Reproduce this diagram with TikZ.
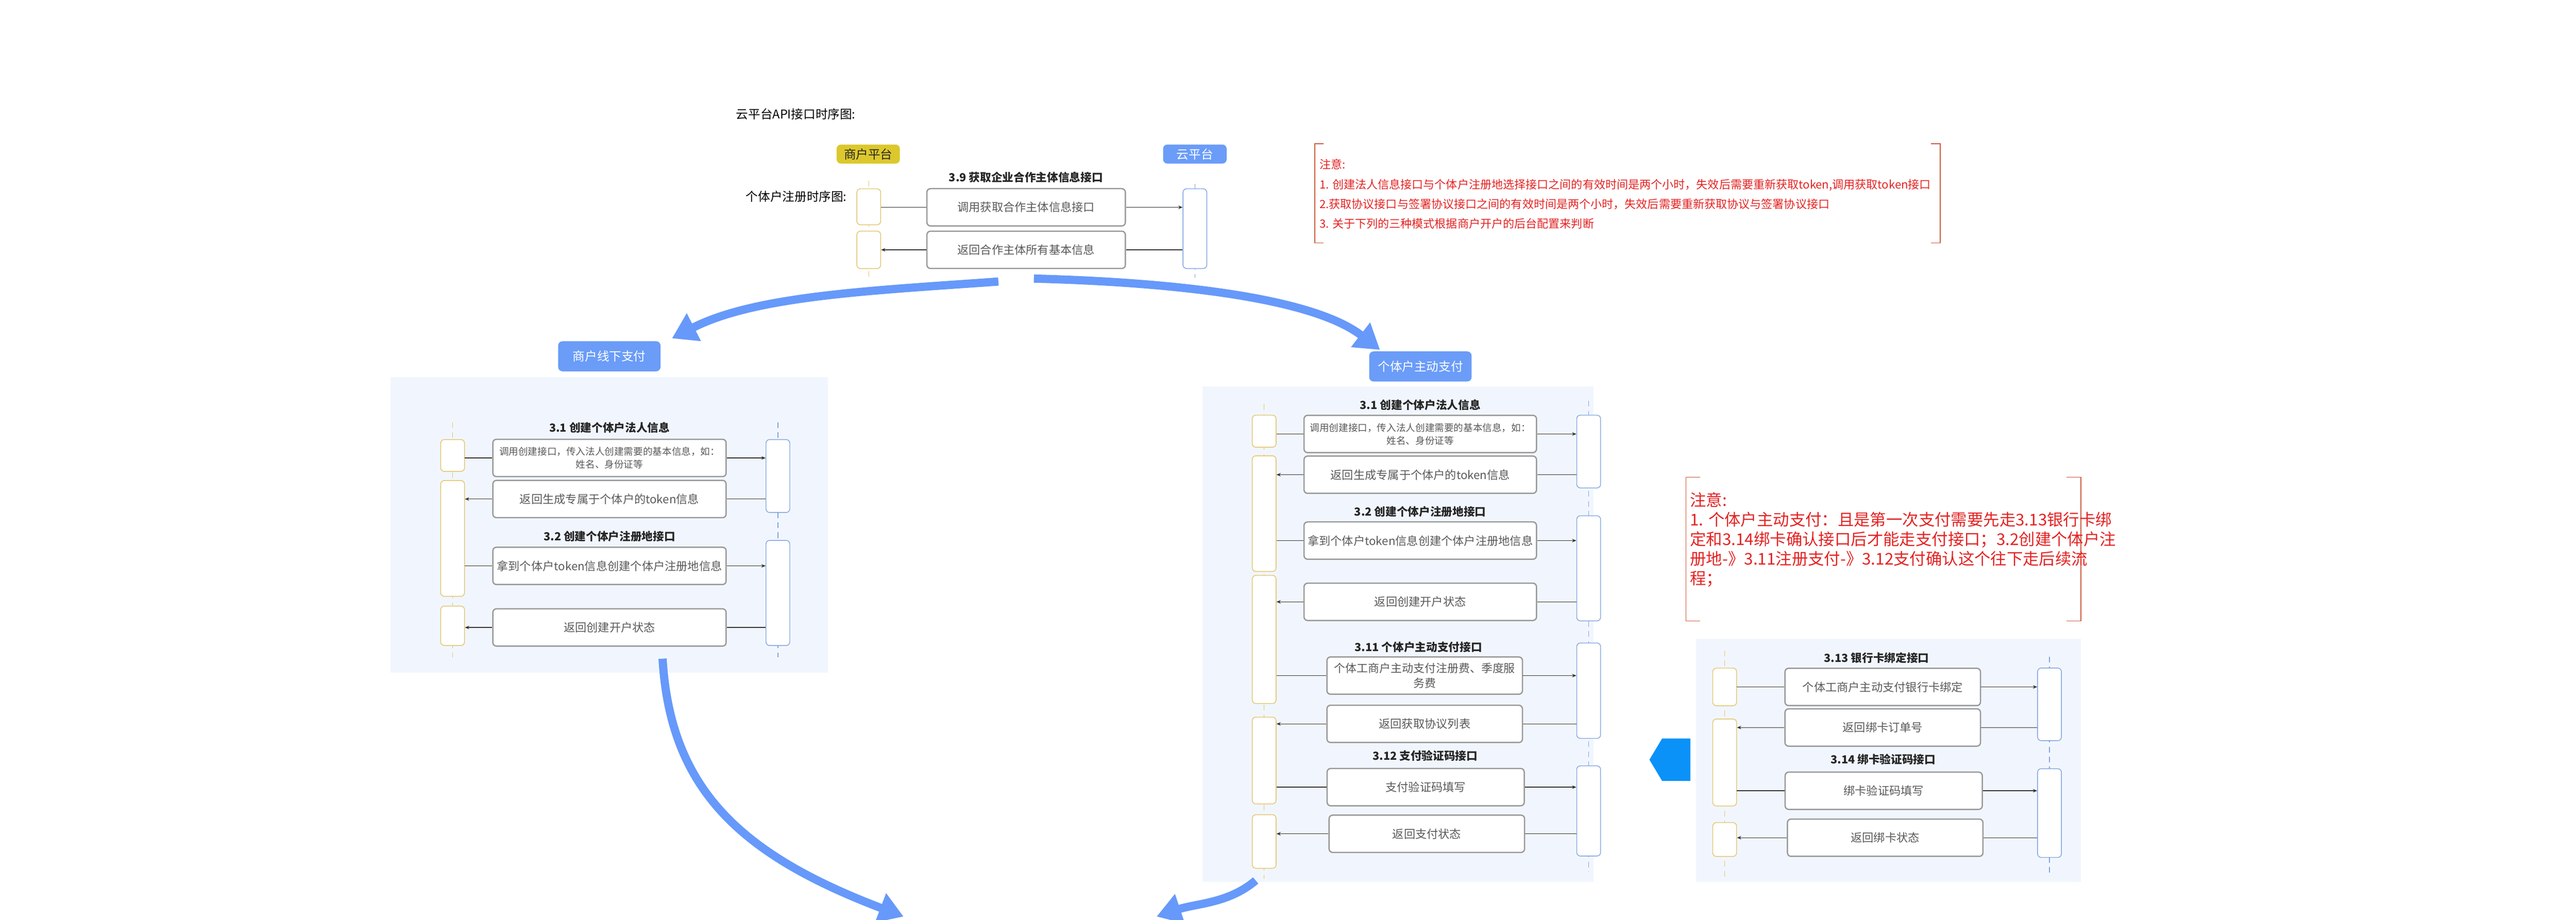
\documentclass[tikz,border=0pt]{standalone}
\usepackage{fontspec}
\setmainfont{Noto Sans CJK SC}
\usetikzlibrary{arrows.meta}
\def\unitpx{0.04034cm}
\definecolor{badgeblue}{HTML}{6A9CF8}
\definecolor{badgeyellow}{HTML}{DCC82C}
\definecolor{panelbg}{HTML}{F1F6FE}
\definecolor{lifeyellow}{HTML}{E2C36A}
\definecolor{lifeblue}{HTML}{7FA3DE}
\definecolor{notered}{HTML}{E32222}
\definecolor{bracketred}{HTML}{CC5A3C}
\definecolor{flowblue}{HTML}{6699FA}
\definecolor{pointerblue}{HTML}{0A92F8}

\begin{document}
\begin{tikzpicture}[x=\unitpx, y=-\unitpx, >={Stealth[length=3pt,width=2.4pt]},
  actL/.style={draw=lifeyellow, fill=white, rounded corners=2.5pt, minimum width=14.5*\unitpx, inner sep=0pt, line width=0.5pt},
  actR/.style={actL, draw=lifeblue},
  msg/.style={draw=gray!80, fill=white, rounded corners=2.5pt, line width=0.9pt, inner sep=1pt, align=center, text=black!65, font=\fontsize{8}{10}\selectfont, minimum height=22.7*\unitpx},
  smallmsg/.style={font=\fontsize{6.7}{9}\selectfont},
  steptitle/.style={font=\bfseries\fontsize{7.8}{10}\selectfont, text=black!85},
  lifeY/.style={draw=lifeyellow, dash pattern=on 4pt off 3pt, line width=0.5pt},
  lifeB/.style={draw=lifeblue, dash pattern=on 4pt off 3pt, line width=0.5pt},
  callline/.style={draw=black!80, line width=0.5pt},
  badge/.style={fill=badgeblue, text=white, rounded corners=3pt, inner sep=0pt, font=\fontsize{8.5}{10}\selectfont},
  bracket/.style={draw=bracketred, line width=0.5pt},
  notetext/.style={text=notered, align=left, anchor=west, inner sep=0pt},
  flowarrow/.style={draw=flowblue, line width=5*\unitpx, -{Triangle[width=18*\unitpx,length=15*\unitpx]}}]

\useasboundingbox (0,0) rectangle (1568,560);

% titles
\node[anchor=west, font=\fontsize{8.5}{10}\selectfont] (title) at (445,69.5) {云平台API接口时序图:};
\node[anchor=west, font=\fontsize{8.5}{10}\selectfont] (subtitle) at (451,119.8) {个体户注册时序图:};

% 3.9
\node[badge, fill=badgeyellow, text=black!85, minimum width=38.5*\unitpx, minimum height=11.6*\unitpx] (merchant) at (528.5,93.8) {商户平台};
\node[badge, minimum width=38.7*\unitpx, minimum height=11.6*\unitpx] (cloud) at (727.3,93.8) {云平台};
\node[steptitle] (t39) at (624.5,107.9) {3.9 获取企业合作主体信息接口};
\coordinate (l9a) at (528.8,110); \coordinate (l9b) at (528.8,169);
\coordinate (r9a) at (727.3,112); \coordinate (r9b) at (727.3,169);
\draw[lifeY] (l9a) -- (l9b);
\draw[lifeB] (r9a) -- (r9b);
\node[actL, minimum height=21.9*\unitpx] (a9L1) at (528.8,125.9) {};
\node[actL, minimum height=22.8*\unitpx] (a9L2) at (528.8,152.1) {};
\node[actR, minimum height=48.5*\unitpx] (a9R) at (727.3,139.2) {};
\node[msg, minimum width=120.8*\unitpx] (m9a) at (624.6,126.2) {调用获取合作主体信息接口};
\node[msg, minimum width=120.8*\unitpx] (m9b) at (624.6,152.1) {返回合作主体所有基本信息};
\draw[callline] (m9a -| a9L1.east) -- (m9a.west);
\draw[callline, ->] (m9a.east) -- (m9a -| a9R.west);
\draw[callline] (m9b -| a9R.west) -- (m9b.east);
\draw[callline, ->] (m9b.west) -- (m9b -| a9L2.east);

% note 1
\draw[bracket] (805.6,87.5) -- (800.3,87.5) -- (800.3,147.8) -- (805.6,147.8);
\draw[bracket] (1175.4,87.5) -- (1181,87.5) -- (1181,147.8) -- (1175.4,147.8);
\node[notetext, font=\fontsize{7.95}{13.8}\selectfont] (note1) at (803,118.2) {注意:\\1. 创建法人信息接口与个体户注册地选择接口之间的有效时间是两个小时，失效后需要重新获取token,调用获取token接口\\2.获取协议接口与签署协议接口之间的有效时间是两个小时，失效后需要重新获取协议与签署协议接口\\3. 关于下列的三种模式根据商户开户的后台配置来判断};

% offline payment
\node[badge, minimum width=62.3*\unitpx, minimum height=18.3*\unitpx] (offline) at (370.9,216.9) {商户线下支付};
\fill[panelbg] (237.6,229.4) rectangle (504,409.7);
\coordinate (loa) at (275.5,257); \coordinate (lob) at (275.5,400);
\coordinate (roa) at (473.5,257); \coordinate (rob) at (473.5,400);
\draw[lifeY] (loa) -- (lob);
\draw[lifeB] (roa) -- (rob);
\node[actL, minimum height=19.4*\unitpx] (oL1) at (275.5,277.3) {};
\node[actL, minimum height=70.5*\unitpx] (oL2) at (275.5,327.8) {};
\node[actL, minimum height=24*\unitpx] (oL3) at (275.5,381) {};
\node[actR, minimum height=44.4*\unitpx] (oR1) at (473.5,289.8) {};
\node[actR, minimum height=64*\unitpx] (oR2) at (473.5,361) {};
\node[steptitle] (o31) at (371,260.4) {3.1 创建个体户法人信息};
\node[steptitle] (o32) at (371,326.6) {3.2 创建个体户注册地接口};
\node[msg, smallmsg, minimum width=142*\unitpx] (om1) at (371,278.8) {调用创建接口，传入法人创建需要的基本信息，如：\\姓名、身份证等};
\node[msg, minimum width=142*\unitpx] (om2) at (371,303.8) {返回生成专属于个体户的token信息};
\node[msg, minimum width=142*\unitpx] (om3) at (371,344.5) {拿到个体户token信息创建个体户注册地信息};
\node[msg, minimum width=142*\unitpx] (om4) at (371,382) {返回创建开户状态};
\foreach \m in {om1, om3} {
  \draw[callline] (\m -| oL1.east) -- (\m.west);
  \draw[callline, ->] (\m.east) -- (\m -| oR1.west);
}
\foreach \m in {om2, om4} {
  \draw[callline] (\m -| oR1.west) -- (\m.east);
  \draw[callline, ->] (\m.west) -- (\m -| oL1.east);
}

% active payment
\node[badge, minimum width=62.3*\unitpx, minimum height=18.3*\unitpx] (active) at (864.6,223.1) {个体户主动支付};
\fill[panelbg] (732,235.3) rectangle (970,537);
\coordinate (lpa) at (769.5,246); \coordinate (lpb) at (769.5,535);
\coordinate (rpa) at (967,244); \coordinate (rpb) at (967,531);
\draw[lifeY] (lpa) -- (lpb);
\draw[lifeB] (rpa) -- (rpb);
\node[actL, minimum height=19.5*\unitpx] (pL1) at (769.5,262.5) {};
\node[actL, minimum height=70.4*\unitpx] (pL2) at (769.5,312.7) {};
\node[actL, minimum height=78*\unitpx] (pL3) at (769.5,389.3) {};
\node[actL, minimum height=52.8*\unitpx] (pL4) at (769.5,463) {};
\node[actL, minimum height=32.6*\unitpx] (pL5) at (769.5,512.3) {};
\node[actR, minimum height=44.3*\unitpx] (pR1) at (967,274.9) {};
\node[actR, minimum height=64*\unitpx] (pR2) at (967,346) {};
\node[actR, minimum height=58.1*\unitpx] (pR3) at (967,420.5) {};
\node[actR, minimum height=54.9*\unitpx] (pR4) at (967,493.7) {};
\node[steptitle] (p31) at (864.5,246.5) {3.1 创建个体户法人信息};
\node[steptitle] (p32) at (864.5,311.6) {3.2 创建个体户注册地接口};
\node[steptitle] (p311) at (863.4,394) {3.11 个体户主动支付接口};
\node[steptitle] (p312) at (867.5,460.1) {3.12 支付验证码接口};
\node[msg, smallmsg, minimum width=141.5*\unitpx] (pm1) at (864.5,264.2) {调用创建接口，传入法人创建需要的基本信息，如：\\姓名、身份证等};
\node[msg, minimum width=141.5*\unitpx] (pm2) at (864.5,289) {返回生成专属于个体户的token信息};
\node[msg, minimum width=141.5*\unitpx] (pm3) at (864.5,329.1) {拿到个体户token信息创建个体户注册地信息};
\node[msg, minimum width=141.5*\unitpx] (pm4) at (864.5,366.4) {返回创建开户状态};
\node[msg, font=\fontsize{7.9}{10.5}\selectfont, minimum width=119*\unitpx] (pm5) at (867.2,411.3) {个体工商户主动支付注册费、季度服\\务费};
\node[msg, minimum width=119*\unitpx] (pm6) at (867.2,440.7) {返回获取协议列表};
\node[msg, minimum width=120*\unitpx] (pm7) at (867.8,479.2) {支付验证码填写};
\node[msg, minimum width=119*\unitpx] (pm8) at (868.5,507.6) {返回支付状态};
\foreach \m in {pm1, pm3, pm5, pm7} {
  \draw[callline] (\m -| pL1.east) -- (\m.west);
  \draw[callline, ->] (\m.east) -- (\m -| pR1.west);
}
\foreach \m in {pm2, pm4, pm6, pm8} {
  \draw[callline] (\m -| pR1.west) -- (\m.east);
  \draw[callline, ->] (\m.west) -- (\m -| pL1.east);
}

% note 2
\draw[bracket] (1035,290.6) -- (1026.3,290.6) -- (1026.3,378) -- (1035,378);
\draw[bracket] (1257.9,290.6) -- (1266.6,290.6) -- (1266.6,378) -- (1257.9,378);
\node[notetext, font=\fontsize{11.3}{13.65}\selectfont] (note2) at (1028.6,328.6) {注意:\\1. 个体户主动支付：且是第一次支付需要先走3.13银行卡绑\\定和3.14绑卡确认接口后才能走支付接口；3.2创建个体户注\\册地-》3.11注册支付-》3.12支付确认这个往下走后续流\\程；};

% bank card binding
\fill[panelbg] (1032.4,388.9) rectangle (1266.6,537);
\coordinate (lba) at (1049.8,396); \coordinate (lbb) at (1049.8,534);
\coordinate (rba) at (1247.5,399.7); \coordinate (rbb) at (1247.5,532);
\draw[lifeY] (lba) -- (lbb);
\draw[lifeB] (rba) -- (rbb);
\node[actL, minimum height=22.9*\unitpx] (bL1) at (1049.8,418.2) {};
\node[actL, minimum height=52.9*\unitpx] (bL2) at (1049.8,464.2) {};
\node[actL, minimum height=20.6*\unitpx] (bL3) at (1049.8,511.1) {};
\node[actR, minimum height=44.2*\unitpx] (bR1) at (1247.5,428.8) {};
\node[actR, minimum height=54*\unitpx] (bR2) at (1247.5,495) {};
\node[steptitle] (b313) at (1142.3,400.5) {3.13 银行卡绑定接口};
\node[steptitle] (b314) at (1146.3,462.2) {3.14 绑卡验证码接口};
\node[msg, minimum width=119*\unitpx] (bm1) at (1146,418.2) {个体工商户主动支付银行卡绑定};
\node[msg, minimum width=119*\unitpx] (bm2) at (1146,442.9) {返回绑卡订单号};
\node[msg, minimum width=120*\unitpx] (bm3) at (1146.6,481.4) {绑卡验证码填写};
\node[msg, minimum width=119*\unitpx] (bm4) at (1147.5,510) {返回绑卡状态};
\foreach \m in {bm1, bm3} {
  \draw[callline] (\m -| bL1.east) -- (\m.west);
  \draw[callline, ->] (\m.east) -- (\m -| bR1.west);
}
\foreach \m in {bm2, bm4} {
  \draw[callline] (\m -| bR1.west) -- (\m.east);
  \draw[callline, ->] (\m.west) -- (\m -| bL1.east);
}
\fill[pointerblue] (1004,462.5) -- (1011.7,449.6) -- (1028.9,449.6) -- (1028.9,475.4) -- (1011.7,475.4) -- cycle;

% flow arrows
\coordinate (fromTop1) at (607.7,171.4);
\coordinate (fromTop2) at (629.3,169.6);
\coordinate (toOffline) at (409,206);
\coordinate (toActive) at (840,213);
\coordinate (fromOffline) at (403.3,401);
\coordinate (fromActive) at (764.3,536);
\coordinate (endA) at (550,558);
\coordinate (endB) at (704,558);
\draw[flowarrow] (fromTop1) .. controls (530,177) and (460,180) .. (toOffline);
\draw[flowarrow] (fromTop2) .. controls (720,172) and (800,182) .. (toActive);
\draw[flowarrow] (fromOffline) .. controls (408,480) and (450,520) .. (endA);
\draw[flowarrow] (fromActive) .. controls (748,550) and (728,550) .. (endB);
\end{tikzpicture}
\end{document}
